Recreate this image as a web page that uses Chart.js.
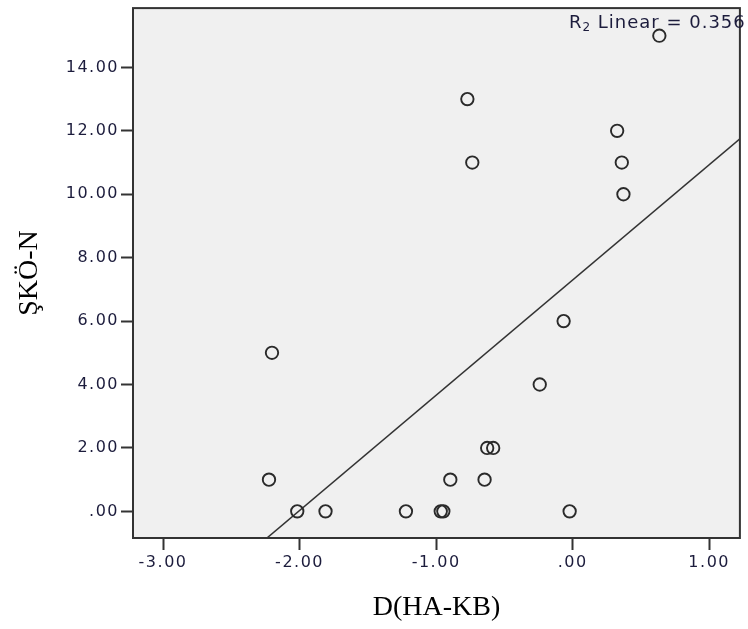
<!DOCTYPE html>
<html>
<head>
<meta charset="utf-8">
<script src="https://cdn.jsdelivr.net/npm/chart.js@4.4.1/dist/chart.umd.min.js"></script>
<style>
  html, body { margin: 0; padding: 0; background: #fff; }
  #wrap { width: 748px; height: 629px; }
</style>
</head>
<body>
<div id="wrap"><canvas id="scatter" width="748" height="629"></canvas></div>
<script>
// one entry per case: D(HA-KB) on x, ŞKÖ-N on y
const dhaKb = [-0.771, -0.735, 0.326, 0.36, 0.372, 0.635, -2.202, -0.066, -0.241, -2.224,
  -0.626, -0.582, -0.896, -0.645, -2.017, -1.81, -1.221, -0.966, -0.947, -0.022]
const skoN = [13, 11, 12, 11, 10, 15, 5, 6, 4, 1,
  2, 2, 1, 1, 0, 0, 0, 0, 0, 0]

const xTickValues = [-3, -2, -1, 0, 1]
const xTickLabels = ['-3.00', '-2.00', '-1.00', '.00', '1.00']
const yTickValues = [0, 2, 4, 6, 8, 10, 12, 14]
const yTickLabels = ['.00', '2.00', '4.00', '6.00', '8.00', '10.00', '12.00', '14.00']
const xRange = [-3.22, 1.225]
const yRange = [-0.84, 15.87]
const rSquared = '0.356'

const tickFont = { family: 'DejaVu Sans', size: 16 }
const inkColor = '#1c1c3c'

// ordinary least squares fit for the reference line
function fitLine(xs, ys) {
  var n = xs.length
  var mx = xs.reduce((a, b) => a + b, 0) / n
  var my = ys.reduce((a, b) => a + b, 0) / n
  var sxy = 0, sxx = 0
  for (var i = 0; i < n; i++) {
    sxy += (xs[i] - mx) * (ys[i] - my)
    sxx += (xs[i] - mx) * (xs[i] - mx)
  }
  var slope = sxy / sxx
  return { slope: slope, intercept: my - slope * mx }
}

const fit = fitLine(dhaKb, skoN)
const fitPoints = xRange.map(x => ({ x: x, y: fit.intercept + fit.slope * x }))
const casePoints = dhaKb.map((x, i) => ({ x: x, y: skoN[i] }))

// keep the plot box edges where the layout puts them
function noEdgePadding(axis) {
  axis.paddingTop = 0
  axis.paddingBottom = 0
  axis.paddingLeft = 0
  axis.paddingRight = 0
}

const plotFrame = {
  id: 'plotFrame',
  beforeDraw(chart) {
    const { ctx, chartArea: a } = chart
    ctx.save()
    ctx.fillStyle = '#f0f0f0'
    ctx.fillRect(a.left, a.top, a.right - a.left, a.bottom - a.top)
    ctx.restore()
    // wider spacing for the tick numbers
    ctx.letterSpacing = '1.5px'
  },
  beforeDatasetsDraw(chart) {
    const { ctx, chartArea: a } = chart
    ctx.save()
    ctx.strokeStyle = '#333'
    ctx.lineWidth = 2
    ctx.strokeRect(a.left, a.top, a.right - a.left, a.bottom - a.top)

    // R2 Linear label in the top right corner
    ctx.fillStyle = inkColor
    ctx.textBaseline = 'alphabetic'
    ctx.textAlign = 'left'
    ctx.letterSpacing = '1px'
    var x = a.right - 171
    var y = a.top + 20
    ctx.font = '18px "DejaVu Sans"'
    ctx.fillText('R', x, y)
    x += ctx.measureText('R').width
    ctx.font = '12px "DejaVu Sans"'
    ctx.fillText('2', x, y + 3)
    x += ctx.measureText('2').width
    ctx.font = '18px "DejaVu Sans"'
    ctx.fillText(' Linear = ' + rSquared, x, y)
    ctx.restore()
  },
  afterDraw(chart) {
    const { ctx, chartArea: a } = chart
    ctx.letterSpacing = '0px'
    ctx.save()
    ctx.fillStyle = '#000'
    ctx.font = '28px "Liberation Serif"'
    ctx.textAlign = 'center'
    ctx.textBaseline = 'middle'
    ctx.fillText('D(HA-KB)', (a.left + a.right) / 2, 608)
    ctx.translate(30, (a.top + a.bottom) / 2)
    ctx.rotate(-Math.PI / 2)
    ctx.fillText('ŞKÖ-N', 0, 0)
    ctx.restore()
  }
}

new Chart(document.getElementById('scatter'), {
  type: 'scatter',
  plugins: [plotFrame],
  data: {
    datasets: [{
      type: 'line',
      data: fitPoints,
      borderColor: '#333',
      borderWidth: 1.5,
      pointRadius: 0,
      fill: false,
      order: 2
    }, {
      data: casePoints,
      pointStyle: 'circle',
      pointRadius: 6.2,
      borderWidth: 1.9,
      borderColor: '#2a2a2a',
      backgroundColor: 'rgba(0,0,0,0)',
      order: 1
    }]
  },
  options: {
    responsive: false,
    animation: false,
    layout: { padding: { top: 5, right: 6, left: 0, bottom: 0 } },
    plugins: {
      legend: { display: false },
      tooltip: { enabled: false }
    },
    scales: {
      x: {
        type: 'linear',
        min: xRange[0],
        max: xRange[1],
        afterBuildTicks: axis => { axis.ticks = xTickValues.map(v => ({ value: v })) },
        afterFit: axis => { axis.height = 91; noEdgePadding(axis) },
        grid: { drawOnChartArea: false, drawTicks: true, tickLength: 12, tickWidth: 2, tickColor: '#333' },
        border: { display: false },
        ticks: {
          autoSkip: false,
          maxRotation: 0,
          padding: 3,
          font: tickFont,
          color: inkColor,
          callback: v => xTickLabels[xTickValues.indexOf(v)]
        }
      },
      y: {
        type: 'linear',
        min: yRange[0],
        max: yRange[1],
        afterBuildTicks: axis => { axis.ticks = yTickValues.map(v => ({ value: v })) },
        afterFit: axis => { axis.width = 133; noEdgePadding(axis) },
        grid: { drawOnChartArea: false, drawTicks: true, tickLength: 12, tickWidth: 2, tickColor: '#333' },
        border: { display: false },
        ticks: {
          autoSkip: false,
          padding: 2,
          font: tickFont,
          color: inkColor,
          callback: v => yTickLabels[yTickValues.indexOf(v)]
        }
      }
    }
  }
})
</script>
</body>
</html>
